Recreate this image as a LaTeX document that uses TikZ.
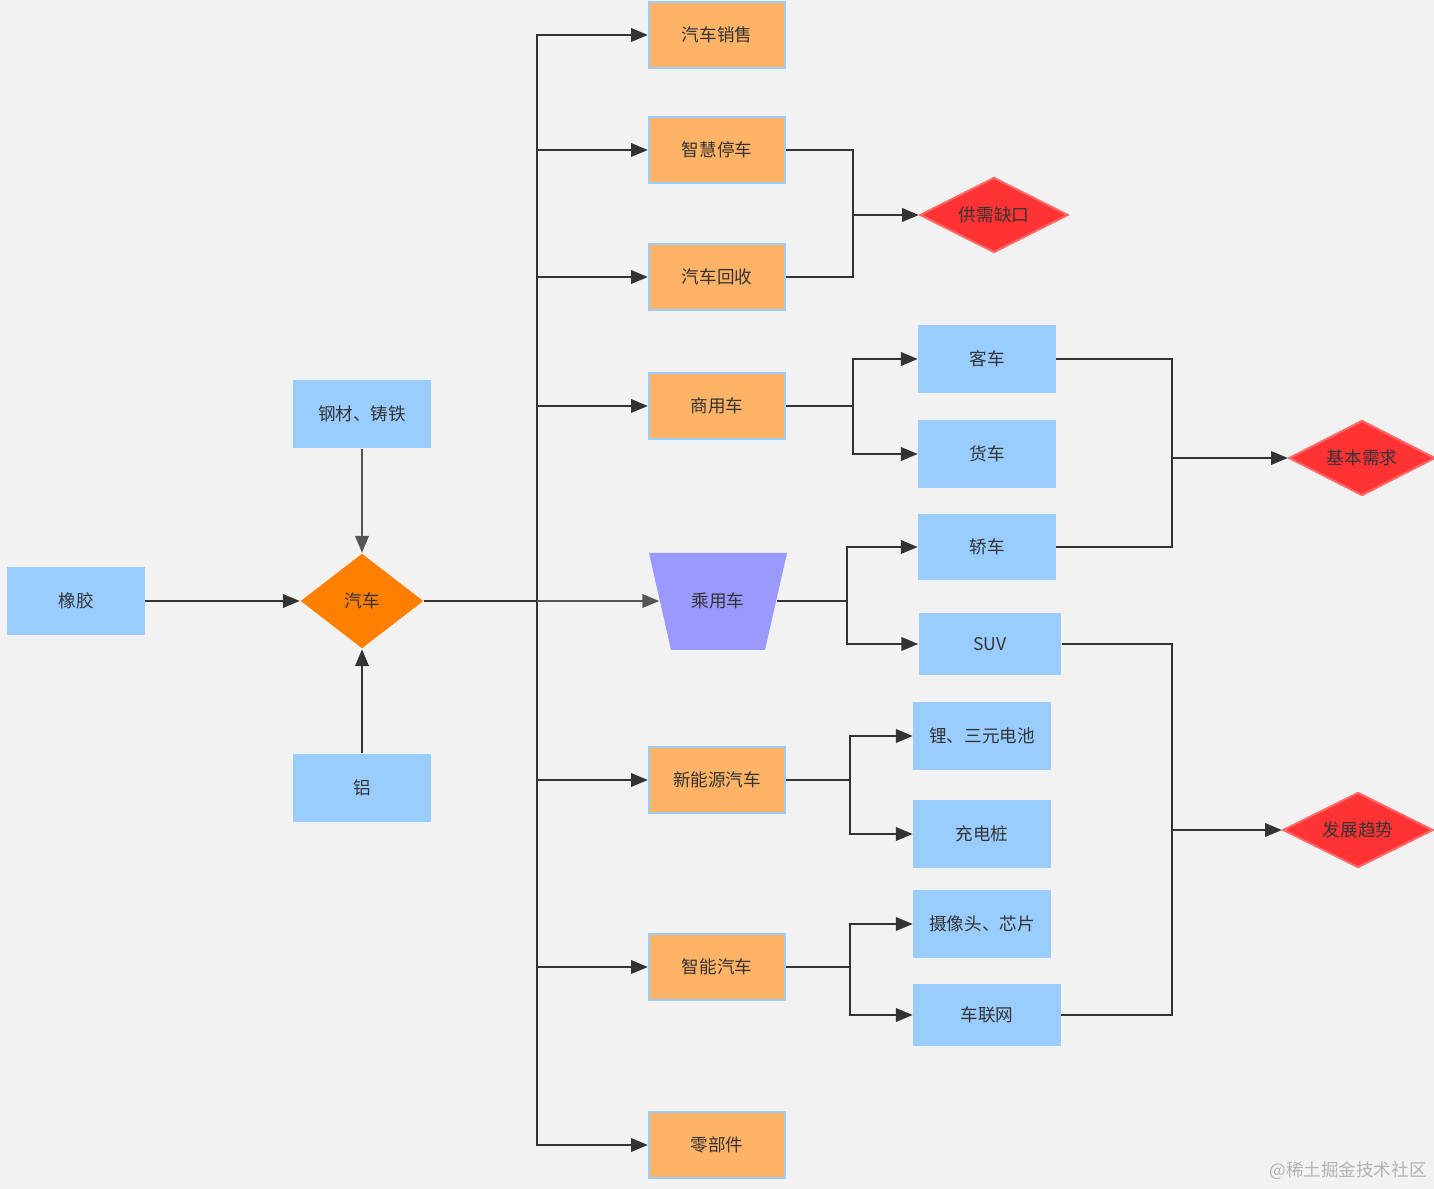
\documentclass[tikz,border=0pt]{standalone}
\usepackage{fontspec}
\setmainfont{Noto Sans CJK SC}
\usetikzlibrary{positioning,shapes.geometric,arrows.meta}
\definecolor{bgc}{HTML}{F2F2F2}
\definecolor{lblue}{HTML}{99CCFF}
\definecolor{lorange}{HTML}{FFB366}
\definecolor{dorange}{HTML}{FF8000}
\definecolor{lpurple}{HTML}{9999FF}
\definecolor{lred}{HTML}{FF3333}
\definecolor{bred}{HTML}{FF6666}
\definecolor{ink}{HTML}{333333}
\definecolor{lgrey}{HTML}{555555}

\begin{document}
\begin{tikzpicture}[x=0.01cm,y=-0.01cm,
    every node/.style={font=\fontsize{5}{6}\selectfont,text=ink,inner sep=0pt},
    part/.style={rectangle,fill=lblue,minimum width=1.37cm,minimum height=0.68cm},
    sect/.style={rectangle,fill=lorange,draw=lblue,line width=0.6pt,minimum width=1.36cm,minimum height=0.66cm},
    goal/.style={diamond,aspect=2,fill=lred,draw=bred,line width=0.6pt,minimum width=1.48cm,minimum height=0.75cm},
    ln/.style={draw=ink,line width=0.7pt},
    arr/.style={ln,-{Triangle[length=4.8pt,width=3.8pt]}}]
  \fill[bgc] (0,0) rectangle (1434,1189);
  \useasboundingbox (0,0) rectangle (1434,1189);

  % raw materials and the car
  \node[part] (xj) at (76,601) {橡胶};
  \node[part] (gc) at (362,414) {钢材、铸铁};
  \node[part] (lv) at (362,788) {铝};
  \node[diamond,fill=dorange,minimum width=1.23cm,minimum height=0.95cm] (car) at (362,601) {汽车};

  % sectors
  \node[sect] (xs) at (717,35) {汽车销售};
  \node[sect] (tc) at (717,150) {智慧停车};
  \node[sect] (hs) at (717,277) {汽车回收};
  \node[sect] (sy) at (717,406) {商用车};
  \fill[lpurple] (649,553) -- (787,553) -- (765,650) -- (671,650) -- cycle;
  \node[minimum width=1.16cm,minimum height=0.96cm] (cy) at (718,601) {乘用车};
  \node[sect] (xn) at (717,780) {新能源汽车};
  \node[sect] (zn) at (717,967) {智能汽车};
  \node[sect] (lb) at (717,1145) {零部件};

  % sub items
  \node[part] (kc) at (987,359) {客车};
  \node[part] (hc) at (987,454) {货车};
  \node[part,minimum height=0.66cm] (jc) at (987,547) {轿车};
  \node[part,minimum width=1.42cm,minimum height=0.62cm] (suv) at (990,644) {SUV};
  \node[part] (dc) at (982,736) {锂、三元电池};
  \node[part] (cd) at (982,834) {充电桩};
  \node[part,minimum height=0.67cm] (sx) at (982,924) {摄像头、芯片};
  \node[part,minimum width=1.47cm,minimum height=0.62cm] (cl) at (987,1015) {车联网};

  % outcomes
  \node[goal] (gap) at (994,215) {供需缺口};
  \node[goal,minimum width=1.46cm] (need) at (1362,458) {基本需求};
  \node[goal,minimum width=1.5cm] (trend) at (1358,830) {发展趋势};

  \coordinate (trunk) at (537,601);
  \coordinate (m1) at (853,215);
  \coordinate (b1) at (853,406);
  \coordinate (b2) at (847,601);
  \coordinate (b3) at (850,780);
  \coordinate (b4) at (850,967);
  \coordinate (m2) at (1172,458);
  \coordinate (m3) at (1172,830);

  % into the car
  \draw[arr] (xj) -- (car);
  \draw[arr,draw=lgrey] (gc) -- (car);
  \draw[arr] (lv) -- (car);

  % trunk
  \foreach \n in {xs,tc,hs,sy,xn,zn,lb}
    \draw[arr] (car.east) -- (trunk) |- (\n.west);
  \draw[arr,draw=lgrey] (trunk) -- (cy.west);

  % gap
  \draw[ln] (tc.east) -| (m1);
  \draw[ln] (hs.east) -| (m1);
  \draw[arr] (m1) -- (gap.west);

  % branches
  \draw[ln] (sy.east) -- (b1);
  \draw[arr] (b1) |- (kc.west);
  \draw[arr] (b1) |- (hc.west);
  \draw[ln] (cy.east) -- (b2);
  \draw[arr] (b2) |- (jc.west);
  \draw[arr] (b2) |- (suv.west);
  \draw[ln] (xn.east) -- (b3);
  \draw[arr] (b3) |- (dc.west);
  \draw[arr] (b3) |- (cd.west);
  \draw[ln] (zn.east) -- (b4);
  \draw[arr] (b4) |- (sx.west);
  \draw[arr] (b4) |- (cl.west);

  % needs and trends
  \draw[ln] (kc.east) -| (m2);
  \draw[ln] (jc.east) -| (m2);
  \draw[arr] (m2) -- (need.west);
  \draw[ln] (suv.east) -| (m3);
  \draw[ln] (cl.east) -| (m3);
  \draw[arr] (m3) -- (trend.west);

  \node[text=black!30] (wm) at (1348,1171) {@稀土掘金技术社区};
\end{tikzpicture}
\end{document}
